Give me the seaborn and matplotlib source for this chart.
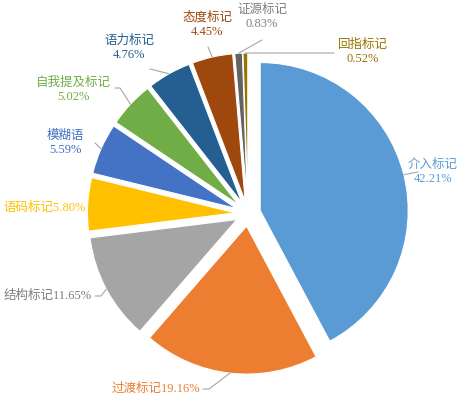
import numpy as np
import matplotlib
matplotlib.use("Agg")
import matplotlib.pyplot as plt
import seaborn as sns

# 数据
labels = ["介入标记", "过渡标记", "结构标记", "语码标记", "模糊语",
          "自我提及标记", "语力标记", "态度标记", "证源标记", "回指标记"]
shares = [42.21, 19.16, 11.65, 5.80, 5.59, 5.02, 4.76, 4.45, 0.83, 0.52]
slice_colors = ["#5B9BD5", "#ED7D31", "#A5A5A5", "#FFC000", "#4472C4",
                "#70AD47", "#255E91", "#9E480E", "#636363", "#997300"]
text_colors = ["#5B9BD5", "#ED7D31", "#7F7F7F", "#FFC000", "#4472C4",
               "#70AD47", "#255E91", "#9E480E", "#7F7F7F", "#997300"]

sns.set_style("white")
plt.rcParams['font.family'] = ['Liberation Serif', 'Noto Sans CJK SC', 'DejaVu Sans']

W, H = 472, 397
CX, CY, R = 248, 213.6, 148  # 像素坐标（y 向下）


def px(x, y):
    # 像素 -> 饼图单位坐标
    return (x - CX) / R, (H - y - (H - CY)) / R


fig = plt.figure(figsize=(W / 100, H / 100), dpi=100)
ax = fig.add_axes([0, 0, 1, 1])

wedges, _ = ax.pie(shares, colors=slice_colors, startangle=90, counterclock=False,
                   explode=[0.085] * len(shares), radius=1,
                   wedgeprops=dict(edgecolor="white", linewidth=0.8))

ax.set_aspect("equal")
x0, y0 = px(0, H)
x1, y1 = px(W, 0)
ax.set_xlim(x0, x1)
ax.set_ylim(y0, y1)
ax.axis("off")

# 标签布局：(文字位置, 对齐, 是否换行, 引线起点, 折点)
layout = {
    "介入标记": ((433, 172), "center", True, (418, 172), None),
    "过渡标记": ((200, 389), "right", False, (203, 389), (209, 389)),
    "结构标记": ((92, 296), "right", False, (95, 296), (101, 296)),
    "语码标记": ((3, 208), "left", False, None, None),
    "模糊语": ((65, 143), "center", True, (95, 143), None),
    "自我提及标记": ((73, 90), "center", True, (115, 88), (120, 88)),
    "语力标记": ((129, 48), "center", True, (150, 69), None),
    "态度标记": ((207, 25), "center", True, (208, 47), None),
    "证源标记": ((262, 17), "center", True, (262, 40), None),
    "回指标记": ((363, 52), "center", True, (334, 53), None),
}

for w, lab, val, tc in zip(wedges, labels, shares, text_colors):
    pos, ha, wrap, start, elbow = layout[lab]
    txt = f"{lab}\n{val:.2f}%" if wrap else f"{lab}{val:.2f}%"
    tx, ty = px(*pos)
    ax.text(tx, ty, txt, ha=ha, va="center", color=tc, fontsize=9,
            linespacing=1.25, multialignment="center")
    if start is None:
        continue
    # 引线终点：扇形外弧中点
    mid = np.deg2rad((w.theta1 + w.theta2) / 2)
    ex = w.center[0] + w.r * np.cos(mid)
    ey = w.center[1] + w.r * np.sin(mid)
    pts = [px(*start)]
    if elbow is not None:
        pts.append(px(*elbow))
    pts.append((ex, ey))
    xs, ys = zip(*pts)
    ax.plot(xs, ys, color="#A6A6A6", lw=0.8)

fig.savefig("out.png", dpi=100)
